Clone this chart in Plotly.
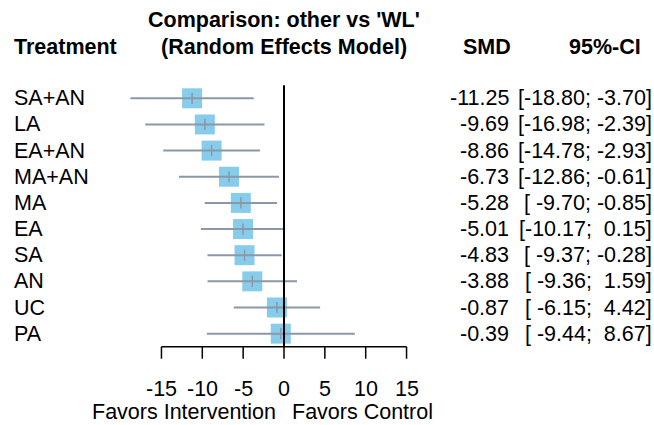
import plotly.graph_objects as go

treatments = ["SA+AN", "LA", "EA+AN", "MA+AN", "MA", "EA", "SA", "AN", "UC", "PA"]
smd = [-11.25, -9.69, -8.86, -6.73, -5.28, -5.01, -4.83, -3.88, -0.87, -0.39]
lower = [-18.80, -16.98, -14.78, -12.86, -9.70, -10.17, -9.37, -9.36, -6.15, -9.44]
upper = [-3.70, -2.39, -2.93, -0.61, -0.85, 0.15, -0.28, 1.59, 4.42, 8.67]
tick_vals = [-15, -10, -5, 0, 5, 10, 15]
tick_labels = ["-15", "-10", "-5", "0", "5", "10", "15"]

W, H = 654, 425
X0_PX, PX_PER_UNIT = 284.0, 8.17      # pixel of 0 and pixels per SMD unit
ROW0_PX, ROW_PX = 98.3, 26.15          # pixel of first row and row spacing

def px_x(px):
    return (px - X0_PX) / PX_PER_UNIT

def px_y(py):
    return (py - ROW0_PX) / ROW_PX

FONT = "Arial, 'Liberation Sans', sans-serif"
FS = 21.5
SQ_COLOR = "#87CDEB"
CI_COLOR = "#8A98A8"

rows = list(range(len(treatments)))

fig = go.Figure()

# squares
fig.add_trace(go.Scatter(
    x=smd, y=rows, mode="markers",
    marker=dict(symbol="square", size=20, color=SQ_COLOR, line=dict(width=0)),
    hoverinfo="skip", showlegend=False))

# CI lines
cx, cy = [], []
for lo, hi, r in zip(lower, upper, rows):
    cx += [lo, hi, None]
    cy += [r, r, None]
fig.add_trace(go.Scatter(
    x=cx, y=cy, mode="lines", line=dict(color=CI_COLOR, width=2),
    hoverinfo="skip", showlegend=False))

# estimate ticks
fig.add_trace(go.Scatter(
    x=smd, y=rows, mode="markers",
    marker=dict(symbol="line-ns", size=8, line=dict(color=CI_COLOR, width=1.5)),
    hoverinfo="skip", showlegend=False))

shapes = []
axis_y = len(treatments) - 0.5
# zero line
shapes.append(dict(type="line", xref="x", yref="y", x0=0, x1=0, y0=-0.5, y1=axis_y,
                   line=dict(color="black", width=2)))
# x axis line
shapes.append(dict(type="line", xref="x", yref="y", x0=tick_vals[0], x1=tick_vals[-1],
                   y0=axis_y, y1=axis_y, line=dict(color="black", width=1.5)))
tick_len = 12 / ROW_PX
for tv in tick_vals:
    shapes.append(dict(type="line", xref="x", yref="y", x0=tv, x1=tv,
                       y0=axis_y, y1=axis_y + tick_len, line=dict(color="black", width=1.5)))

ann = []
def text(x, y, s, xa="left", bold=False):
    ann.append(dict(x=x, y=y, xref="x", yref="y", text=(f"<b>{s}</b>" if bold else s),
                    showarrow=False, xanchor=xa, yanchor="middle", borderpad=0,
                    font=dict(family=FONT, size=FS, color="black")))

# tick labels
for tv, tl in zip(tick_vals, tick_labels):
    text(tv, px_y(389), tl, "center")
text(px_x(277), px_y(411.5), "Favors Intervention", "right")
text(px_x(291), px_y(411.5), "Favors Control", "left")

# header
text(0, px_y(20), "Comparison: other vs 'WL'", "center", True)
text(0, px_y(47), "(Random Effects Model)", "center", True)
text(px_x(13), px_y(47), "Treatment", "left", True)
text(px_x(512), px_y(47), "SMD", "right", True)
text(px_x(642), px_y(47), "95%-CI", "right", True)

NB = "\u00a0"
for t, v, lo, hi, r in zip(treatments, smd, lower, upper, rows):
    text(px_x(13), r, t, "left")
    text(px_x(510), r, f"{v:.2f}", "right")
    ci = f"[{lo:6.2f};{hi:6.2f}]".replace(" ", NB)
    text(px_x(653), r, ci, "right")

fig.update_layout(
    width=W, height=H,
    margin=dict(l=0, r=0, t=0, b=0),
    paper_bgcolor="white", plot_bgcolor="white",
    xaxis=dict(range=[px_x(0), px_x(W)], visible=False, fixedrange=True),
    yaxis=dict(range=[px_y(H), px_y(0)], visible=False, fixedrange=True),
    shapes=shapes, annotations=ann,
    showlegend=False,
)

fig.write_html("out.html", config={"displayModeBar": False},
               post_script="document.body.style.margin='0px';document.body.style.overflow='hidden';")
